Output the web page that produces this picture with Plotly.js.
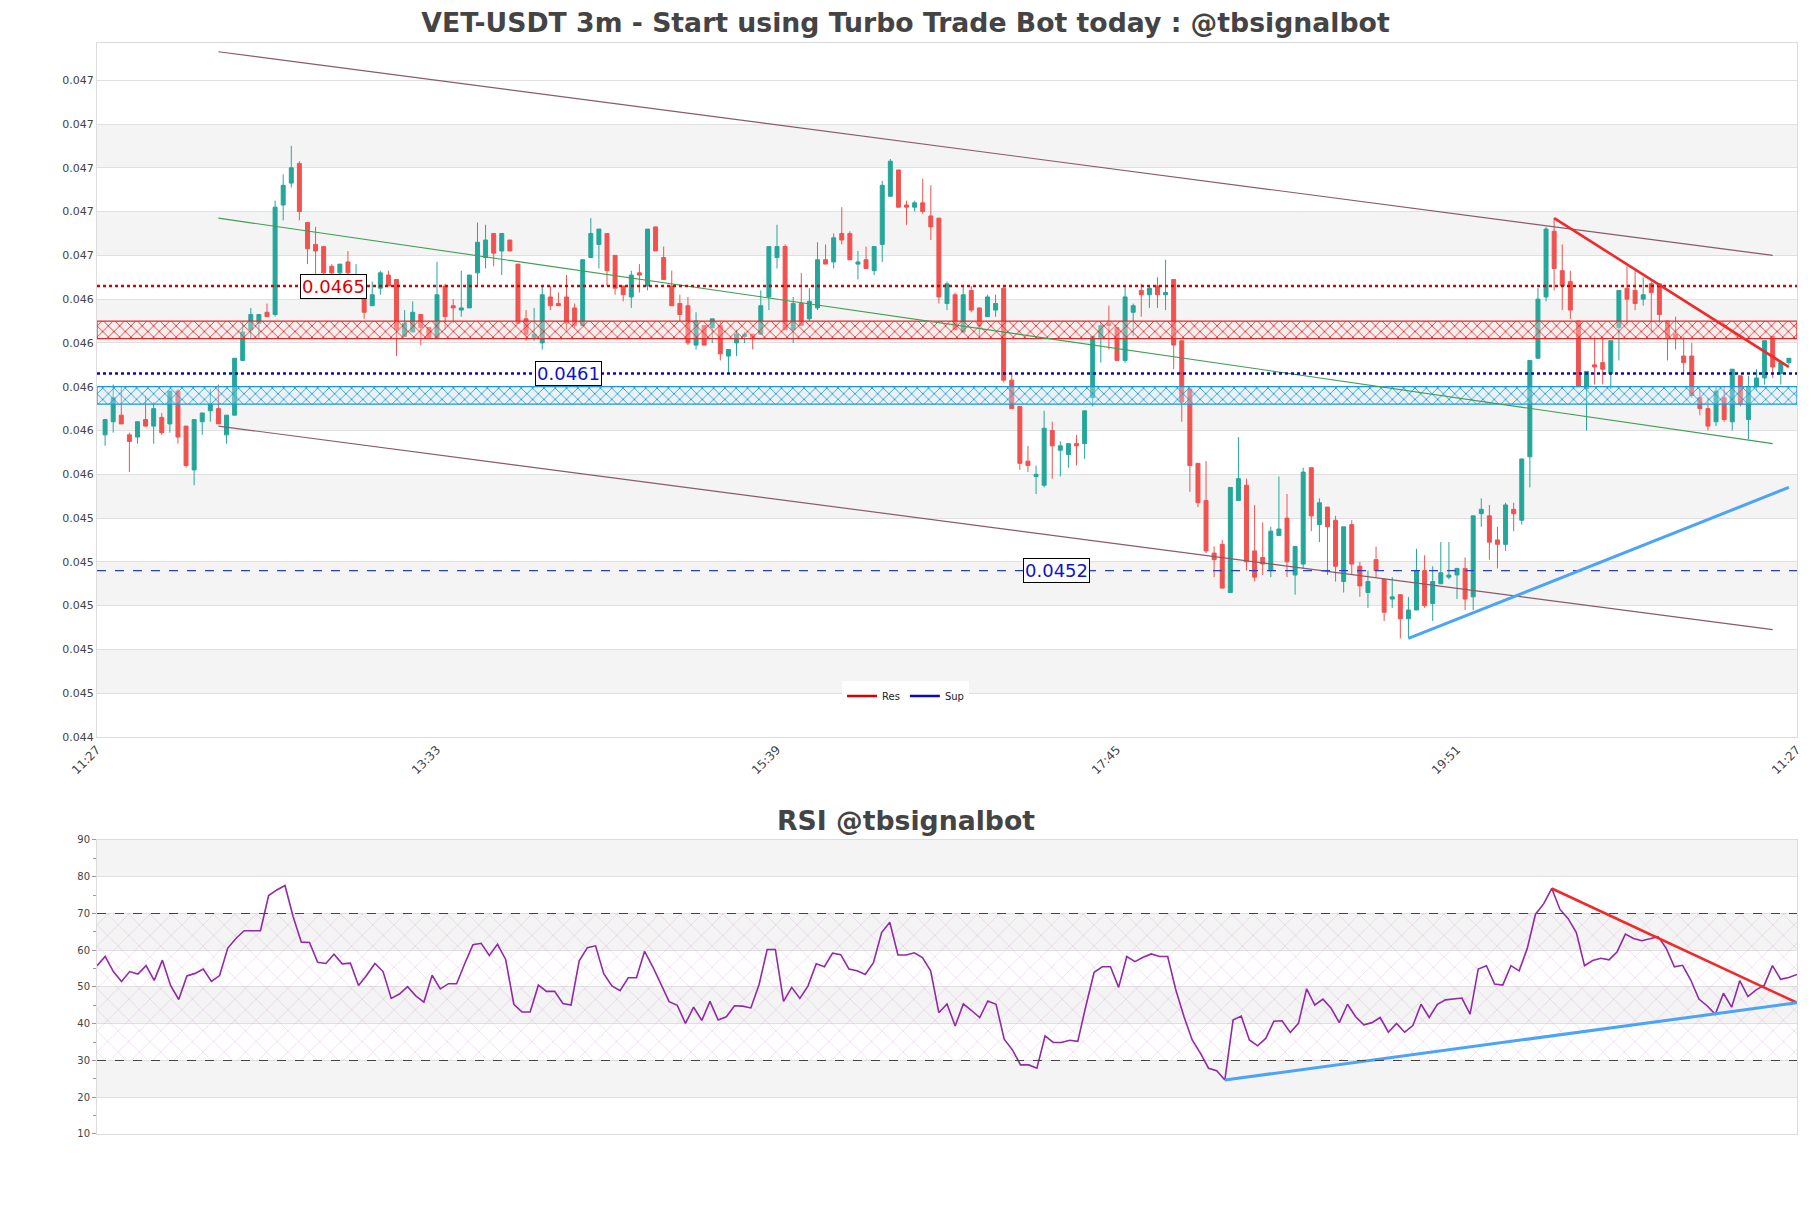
<!DOCTYPE html>
<html>
<head>
<meta charset="utf-8">
<script src="https://cdn.plot.ly/plotly-3.0.1.min.js"></script>
<style>
  html, body { margin: 0; padding: 0; background: #fff; }
  #chart { width: 1811px; height: 1208px; }
</style>
</head>
<body>
<div id="chart"></div>
<script>
// x axis labels (candle index positions)
const tickIdx = [0, 42, 84, 126, 168, 210];
const tickLabels = ['11:27', '13:33', '15:39', '17:45', '19:51', '11:27'];

// VET-USDT 3m candles
const openPx = [
  0.04578,0.04584,0.04587,0.04578,0.04577,0.04585,0.04582,0.04586,0.04583,0.04598,
  0.04582,0.04562,0.04584,0.04589,0.04590,0.04578,0.04587,0.04612,0.04626,0.04629,
  0.04634,0.04633,0.04683,0.04693,0.04702,0.04675,0.04665,0.04664,0.04655,0.04652,
  0.04657,0.04648,0.04643,0.04637,0.04645,0.04651,0.04649,0.04623,0.04625,0.04633,
  0.04627,0.04622,0.04646,0.04637,0.04635,0.04636,0.04652,0.04659,0.04670,0.04662,
  0.04667,0.04656,0.04631,0.04622,0.04620,0.04641,0.04638,0.04641,0.04636,0.04628,
  0.04659,0.04665,0.04670,0.04660,0.04646,0.04641,0.04652,0.04646,0.04673,0.04659,
  0.04646,0.04638,0.04637,0.04619,0.04628,0.04627,0.04628,0.04614,0.04620,0.04623,
  0.04624,0.04624,0.04641,0.04659,0.04664,0.04626,0.04638,0.04631,0.04636,0.04658,
  0.04657,0.04670,0.04670,0.04656,0.04658,0.04653,0.04665,0.04687,0.04699,0.04683,
  0.04682,0.04684,0.04678,0.04677,0.04638,0.04642,0.04625,0.04644,0.04636,0.04632,
  0.04635,0.04645,0.04603,0.04591,0.04566,0.04559,0.04555,0.04580,0.04571,0.04569,
  0.04574,0.04574,0.04595,0.04622,0.04629,0.04627,0.04612,0.04634,0.04644,0.04642,
  0.04646,0.04642,0.04649,0.04621,0.04599,0.04565,0.04548,0.04524,0.04528,0.04506,
  0.04548,0.04555,0.04525,0.04522,0.04516,0.04532,0.04540,0.04514,0.04519,0.04563,
  0.04537,0.04545,0.04539,0.04511,0.04537,0.04518,0.04506,0.04521,0.04512,0.04503,
  0.04505,0.04494,0.04498,0.04516,0.04501,0.04510,0.04513,0.04514,0.04517,0.04504,
  0.04542,0.04541,0.04530,0.04528,0.04544,0.04539,0.04568,0.04613,0.04641,0.04671,
  0.04653,0.04648,0.04630,0.04599,0.04610,0.04611,0.04606,0.04627,0.04645,0.04644,
  0.04640,0.04647,0.04647,0.04630,0.04624,0.04614,0.04614,0.04595,0.04590,0.04584,
  0.04595,0.04584,0.04605,0.04585,0.04600,0.04604,0.04623,0.04606,0.04611
];
const highPx = [
  0.04585,0.04601,0.04600,0.04579,0.04584,0.04596,0.04593,0.04588,0.04598,0.04599,
  0.04582,0.04585,0.04588,0.04599,0.04601,0.04587,0.04613,0.04630,0.04636,0.04633,
  0.04638,0.04685,0.04697,0.04710,0.04703,0.04675,0.04673,0.04664,0.04656,0.04656,
  0.04662,0.04656,0.04643,0.04648,0.04653,0.04653,0.04649,0.04635,0.04639,0.04633,
  0.04627,0.04657,0.04647,0.04640,0.04653,0.04651,0.04675,0.04674,0.04670,0.04670,
  0.04667,0.04656,0.04635,0.04636,0.04646,0.04646,0.04643,0.04651,0.04638,0.04658,
  0.04677,0.04672,0.04670,0.04660,0.04646,0.04653,0.04656,0.04672,0.04673,0.04664,
  0.04653,0.04642,0.04641,0.04634,0.04628,0.04631,0.04630,0.04617,0.04626,0.04625,
  0.04624,0.04644,0.04664,0.04674,0.04665,0.04641,0.04652,0.04645,0.04666,0.04665,
  0.04670,0.04682,0.04671,0.04662,0.04664,0.04664,0.04694,0.04704,0.04699,0.04685,
  0.04685,0.04695,0.04692,0.04677,0.04648,0.04643,0.04646,0.04646,0.04636,0.04642,
  0.04642,0.04646,0.04606,0.04591,0.04573,0.04564,0.04589,0.04584,0.04575,0.04574,
  0.04578,0.04589,0.04623,0.04630,0.04637,0.04627,0.04646,0.04638,0.04647,0.04646,
  0.04650,0.04658,0.04649,0.04621,0.04599,0.04565,0.04566,0.04527,0.04530,0.04554,
  0.04577,0.04558,0.04546,0.04538,0.04536,0.04559,0.04551,0.04527,0.04563,0.04563,
  0.04549,0.04545,0.04541,0.04536,0.04539,0.04520,0.04516,0.04527,0.04512,0.04513,
  0.04505,0.04504,0.04526,0.04523,0.04518,0.04529,0.04529,0.04517,0.04522,0.04541,
  0.04549,0.04546,0.04536,0.04547,0.04547,0.04567,0.04612,0.04645,0.04673,0.04677,
  0.04665,0.04653,0.04630,0.04607,0.04623,0.04623,0.04621,0.04644,0.04655,0.04653,
  0.04650,0.04648,0.04647,0.04630,0.04632,0.04623,0.04620,0.04600,0.04595,0.04600,
  0.04600,0.04608,0.04605,0.04605,0.04608,0.04621,0.04623,0.04612,0.04613
];
const lowPx = [
  0.04573,0.04579,0.04583,0.04561,0.04574,0.04582,0.04574,0.04578,0.04579,0.04574,
  0.04563,0.04555,0.04578,0.04584,0.04583,0.04574,0.04587,0.04612,0.04622,0.04622,
  0.04632,0.04632,0.04676,0.04691,0.04676,0.04656,0.04651,0.04651,0.04651,0.04642,
  0.04651,0.04643,0.04631,0.04637,0.04642,0.04646,0.04614,0.04623,0.04625,0.04619,
  0.04622,0.04622,0.04626,0.04629,0.04632,0.04636,0.04646,0.04654,0.04655,0.04651,
  0.04662,0.04629,0.04621,0.04621,0.04617,0.04635,0.04637,0.04626,0.04627,0.04628,
  0.04659,0.04654,0.04646,0.04642,0.04639,0.04636,0.04643,0.04644,0.04662,0.04649,
  0.04637,0.04630,0.04619,0.04617,0.04619,0.04620,0.04612,0.04606,0.04614,0.04620,
  0.04617,0.04624,0.04635,0.04654,0.04626,0.04620,0.04628,0.04630,0.04635,0.04656,
  0.04654,0.04665,0.04658,0.04649,0.04654,0.04651,0.04657,0.04687,0.04682,0.04674,
  0.04680,0.04679,0.04667,0.04638,0.04635,0.04626,0.04625,0.04634,0.04622,0.04632,
  0.04632,0.04602,0.04590,0.04562,0.04561,0.04551,0.04554,0.04558,0.04559,0.04563,
  0.04564,0.04567,0.04591,0.04611,0.04617,0.04612,0.04611,0.04623,0.04632,0.04636,
  0.04636,0.04635,0.04608,0.04584,0.04552,0.04545,0.04524,0.04513,0.04508,0.04506,
  0.04548,0.04516,0.04511,0.04514,0.04513,0.04532,0.04513,0.04505,0.04517,0.04534,
  0.04529,0.04514,0.04511,0.04506,0.04514,0.04504,0.04499,0.04513,0.04493,0.04499,
  0.04485,0.04485,0.04498,0.04499,0.04493,0.04510,0.04512,0.04503,0.04498,0.04498,
  0.04536,0.04521,0.04517,0.04525,0.04534,0.04537,0.04554,0.04613,0.04639,0.04644,
  0.04635,0.04631,0.04600,0.04580,0.04601,0.04601,0.04599,0.04612,0.04628,0.04635,
  0.04637,0.04625,0.04629,0.04612,0.04617,0.04606,0.04595,0.04587,0.04580,0.04582,
  0.04584,0.04580,0.04591,0.04576,0.04598,0.04601,0.04604,0.04601,0.04610
];
const closePx = [
  0.04585,0.04595,0.04583,0.04575,0.04584,0.04582,0.04590,0.04579,0.04598,0.04577,
  0.04564,0.04585,0.04588,0.04592,0.04583,0.04587,0.04613,0.04625,0.04633,0.04633,
  0.04632,0.04682,0.04692,0.04700,0.04680,0.04663,0.04662,0.04652,0.04652,0.04656,
  0.04652,0.04651,0.04634,0.04642,0.04652,0.04646,0.04626,0.04629,0.04634,0.04627,
  0.04622,0.04642,0.04632,0.04636,0.04636,0.04651,0.04666,0.04667,0.04661,0.04670,
  0.04662,0.04629,0.04624,0.04624,0.04642,0.04637,0.04637,0.04629,0.04628,0.04658,
  0.04670,0.04672,0.04653,0.04645,0.04642,0.04651,0.04651,0.04672,0.04662,0.04649,
  0.04637,0.04633,0.04620,0.04630,0.04619,0.04631,0.04615,0.04617,0.04624,0.04624,
  0.04622,0.04637,0.04664,0.04664,0.04626,0.04638,0.04628,0.04639,0.04658,0.04656,
  0.04668,0.04667,0.04658,0.04657,0.04654,0.04664,0.04692,0.04703,0.04682,0.04682,
  0.04684,0.04680,0.04673,0.04641,0.04647,0.04626,0.04642,0.04635,0.04628,0.04641,
  0.04638,0.04603,0.04590,0.04565,0.04564,0.04560,0.04581,0.04573,0.04573,0.04574,
  0.04573,0.04589,0.04623,0.04628,0.04628,0.04612,0.04641,0.04637,0.04642,0.04645,
  0.04642,0.04643,0.04619,0.04593,0.04564,0.04547,0.04525,0.04521,0.04508,0.04554,
  0.04558,0.04520,0.04513,0.04519,0.04534,0.04535,0.04520,0.04527,0.04561,0.04541,
  0.04547,0.04536,0.04518,0.04536,0.04519,0.04509,0.04511,0.04516,0.04497,0.04504,
  0.04494,0.04498,0.04516,0.04500,0.04511,0.04515,0.04514,0.04517,0.04503,0.04541,
  0.04544,0.04529,0.04528,0.04546,0.04542,0.04567,0.04612,0.04640,0.04672,0.04654,
  0.04646,0.04635,0.04600,0.04607,0.04609,0.04608,0.04621,0.04644,0.04640,0.04638,
  0.04642,0.04643,0.04633,0.04622,0.04622,0.04611,0.04596,0.04590,0.04582,0.04598,
  0.04585,0.04608,0.04592,0.04600,0.04604,0.04621,0.04609,0.04611,0.04613
];

// RSI values, one per candle
const rsiValues = [
  55.8,58.3,54.2,51.5,54.2,53.5,55.8,51.8,57.3,50.4,
  46.6,53.0,53.7,54.9,51.5,53.1,60.6,63.2,65.3,65.3,
  65.3,74.9,76.4,77.6,69.1,62.2,62.1,56.7,56.4,58.9,
  56.3,56.5,50.4,53.2,56.4,54.2,46.9,48.1,50.1,47.6,
  45.9,53.2,49.5,50.9,50.9,56.4,61.5,61.9,58.6,61.6,
  57.5,45.3,43.2,43.2,50.5,48.8,48.8,45.5,45.1,57.1,
  60.7,61.2,53.6,50.3,49.0,52.5,52.5,59.7,55.5,50.8,
  46.0,45.0,40.1,44.5,40.9,46.1,41.0,41.9,44.9,44.8,
  44.3,50.6,60.2,60.2,46.1,49.9,46.9,50.3,56.3,55.5,
  59.2,58.8,54.9,54.4,53.4,56.6,64.8,67.6,58.7,58.7,
  59.3,58.0,54.4,43.0,
  45.4,39.4,45.4,43.6,41.7,46.2,45.3,35.8,32.9,28.8,
  28.8,27.9,36.7,34.9,34.9,35.5,35.2,44.9,54.0,55.5,
  55.5,49.9,58.3,56.9,58.1,59.0,58.3,58.3,49.2,41.9,
  35.6,32.0,27.9,27.2,24.7,41.0,42.1,35.6,34.0,36.0,
  40.7,40.8,37.6,40.1,49.5,45.1,46.7,44.2,40.3,45.3,
  41.9,39.7,40.3,41.7,37.7,40.1,37.7,39.5,45.3,41.7,
  45.3,46.5,46.8,47.0,42.6,54.9,55.8,50.8,50.5,55.8,
  54.4,60.5,69.8,72.6,76.8,71.1,68.6,64.8,55.8,57.2,
  57.8,57.4,59.6,64.4,63.2,62.6,63.1,63.7,60.5,55.5,
  55.9,51.9,46.7,44.9,42.6,48.3,44.5,51.7,47.4,49.2,
  50.5,55.8,52.1,52.6,53.4
];

// levels and zones
const resLevel = 0.04646;
const supLevel = 0.04606;
const lowSupLevel = 0.04516;
const resZone = [0.04622, 0.04630];
const supZone = [0.04592, 0.04600];

// channel and trend lines (candle index, price)
const channelX = [15, 207];
const channelUpperY = [0.04753, 0.04660];
const channelLowerY = [0.04582, 0.04489];
const channelMidY = [0.04677, 0.04574];
const resTrendX = [180, 209];
const resTrendY = [0.04677, 0.04609];
const supTrendX = [162, 209];
const supTrendY = [0.04485, 0.04554];

// RSI trend lines and levels
const rsiResX = [178, 208];
const rsiResY = [76.8, 45.7];
const rsiSupX = [138, 208];
const rsiSupY = [24.7, 45.7];
const rsiBounds = [30, 70];

const candleIdx = openPx.map((_, i) => i + 1);
const rsiIdx = rsiValues.map((_, i) => i);
const xMin = tickIdx[0];
const xMax = tickIdx[tickIdx.length - 1];
// page centre in paper coords (plot area is 97..1797 of 1811 px)
const pageCenterX = (1811 / 2 - 97) / 1700;

function zoneTrace(zone, color, bg) {
  return {
    x: [xMin, xMax, xMax, xMin, xMin],
    y: [zone[0], zone[0], zone[1], zone[1], zone[0]],
    type: 'scatter',
    mode: 'lines',
    fill: 'toself',
    fillcolor: bg,
    fillpattern: { shape: 'x', fgcolor: color, bgcolor: bg, size: 8, solidity: 0.2 },
    line: { color: color, width: 1.2 },
    hoverinfo: 'skip',
    showlegend: false,
  };
}

function hLine(level, color, dash, width) {
  return {
    x: [xMin, xMax],
    y: [level, level],
    type: 'scatter',
    mode: 'lines',
    line: { color: color, dash: dash, width: width },
    showlegend: false,
    hoverinfo: 'skip',
  };
}

function legendEntry(name, color) {
  return {
    x: [null], y: [null], type: 'scatter', mode: 'lines', name: name,
    line: { color: color, width: 2.5 }, showlegend: true, hoverinfo: 'skip',
  };
}

function segment(x, y, color, width, xa, ya) {
  return {
    x: x, y: y, type: 'scatter', mode: 'lines',
    line: { color: color, width: width },
    xaxis: xa || 'x', yaxis: ya || 'y',
    showlegend: false, hoverinfo: 'skip',
  };
}

const traces = [
  zoneTrace(resZone, '#e02828', 'rgba(255,225,225,0.35)'),
  zoneTrace(supZone, '#1a98d8', 'rgba(215,238,250,0.35)'),
  segment(channelX, channelUpperY, '#8a5a6a', 1.2),
  segment(channelX, channelLowerY, '#8a5a6a', 1.2),
  segment(channelX, channelMidY, '#3f9e52', 1.1),
  hLine(resLevel, '#d80000', 'dot', 2.5),
  hLine(supLevel, '#0a0ab4', 'dot', 2.5),
  hLine(lowSupLevel, '#2b3ad8', 'dash', 1.2),
  legendEntry('Res', '#d80000'),
  legendEntry('Sup', '#0a0ab4'),
  {
    x: candleIdx,
    open: openPx,
    high: highPx,
    low: lowPx,
    close: closePx,
    type: 'candlestick',
    increasing: { line: { color: '#26a69a', width: 1 }, fillcolor: '#26a69a' },
    decreasing: { line: { color: '#ef5350', width: 1 }, fillcolor: '#ef5350' },
    showlegend: false,
    hoverinfo: 'skip',
  },
  segment(resTrendX, resTrendY, '#f02a2a', 2.6),
  segment(supTrendX, supTrendY, '#4da3f5', 3),
  // RSI panel
  {
    x: [rsiIdx[0], rsiIdx[rsiIdx.length - 1], rsiIdx[rsiIdx.length - 1], rsiIdx[0], rsiIdx[0]],
    y: [rsiBounds[0], rsiBounds[0], rsiBounds[1], rsiBounds[1], rsiBounds[0]],
    type: 'scatter', mode: 'lines', fill: 'toself',
    fillcolor: 'rgba(0,0,0,0)',
    fillpattern: { shape: 'x', fgcolor: 'rgba(200,150,205,0.75)', bgcolor: 'rgba(0,0,0,0)', size: 15, solidity: 0.05 },
    line: { width: 0 },
    xaxis: 'x2', yaxis: 'y2', showlegend: false, hoverinfo: 'skip',
  },
  {
    x: rsiIdx, y: rsiValues, type: 'scatter', mode: 'lines',
    line: { color: '#912aa6', width: 1.6 },
    xaxis: 'x2', yaxis: 'y2', showlegend: false, hoverinfo: 'skip',
  },
  segment(rsiResX, rsiResY, '#f02a2a', 2.6, 'x2', 'y2'),
  segment(rsiSupX, rsiSupY, '#4da3f5', 3, 'x2', 'y2'),
];

// alternating grey bands
const yMin = 0.0444, yStep = 0.0002;
const shapes = [];
for (let k = 0; k < 7; k++) {
  const y0 = yMin + yStep * (1 + 2 * k);
  shapes.push({
    type: 'rect', xref: 'x domain', yref: 'y', x0: 0, x1: 1, y0: y0, y1: y0 + yStep,
    fillcolor: '#f4f4f4', line: { width: 0 }, layer: 'below',
  });
}
[20, 40, 60, 80].forEach((v) => {
  shapes.push({
    type: 'rect', xref: 'x2 domain', yref: 'y2', x0: 0, x1: 1, y0: v, y1: v + 10,
    fillcolor: '#f4f4f4', line: { width: 0 }, layer: 'below',
  });
});
rsiBounds.forEach((v) => {
  shapes.push({
    type: 'line', xref: 'x2 domain', yref: 'y2', x0: 0, x1: 1, y0: v, y1: v,
    line: { color: '#444', width: 1.2, dash: 'dash' },
  });
});

function levelLabel(xPos, level, color) {
  return {
    x: xPos, y: level, xref: 'x', yref: 'y',
    text: level.toFixed(4), showarrow: false,
    font: { family: 'DejaVu Sans', size: 18, color: color },
    bgcolor: '#ffffff', bordercolor: '#000000', borderwidth: 1, borderpad: 1,
  };
}

const layout = {
  width: 1811,
  height: 1208,
  margin: { l: 97, r: 14, t: 43, b: 74 },
  paper_bgcolor: '#ffffff',
  plot_bgcolor: '#ffffff',
  font: { family: 'DejaVu Sans', color: '#444' },
  title: {
    text: '<b>VET-USDT 3m - Start using Turbo Trade Bot today : @tbsignalbot</b>',
    x: 0.5, xanchor: 'center', yref: 'container', y: 1 - 23 / 1208, yanchor: 'middle',
    font: { family: 'DejaVu Sans', size: 26.7, color: '#444' },
  },
  boxgap: 0.3,
  showlegend: true,
  legend: {
    orientation: 'h', x: pageCenterX, xanchor: 'center', y: 0.4015, yanchor: 'middle',
    bgcolor: '#ffffff', font: { size: 10, color: '#222' }, itemwidth: 30,
  },
  xaxis: {
    domain: [0, 1], anchor: 'y', range: [xMin, xMax],
    tickmode: 'array', tickvals: tickIdx, ticktext: tickLabels, tickangle: -45,
    tickfont: { size: 12, color: '#444' },
    showgrid: false, zeroline: false,
    showline: true, mirror: true, linecolor: '#dcdcdc',
    rangeslider: { visible: false },
  },
  yaxis: {
    domain: [0.3639, 1], anchor: 'x', range: [yMin, 0.04757],
    tick0: yMin, dtick: yStep, tickformat: '.3f',
    tickfont: { size: 11, color: '#444' },
    gridcolor: '#e0e0e0', zeroline: false,
    showline: true, mirror: true, linecolor: '#dcdcdc',
  },
  xaxis2: {
    domain: [0, 1], anchor: 'y2', range: [rsiIdx[0], rsiIdx[rsiIdx.length - 1]],
    showticklabels: false, showgrid: false, zeroline: false,
    showline: true, mirror: true, linecolor: '#dcdcdc',
  },
  yaxis2: {
    domain: [0, 0.2695], anchor: 'x2', range: [10, 90], dtick: 10,
    tickfont: { size: 10, color: '#444' },
    gridcolor: '#e0e0e0', zeroline: false,
    showline: true, mirror: true, linecolor: '#dcdcdc',
    ticks: 'outside', ticklen: 4, tickcolor: '#999',
    minor: { ticks: 'outside', dtick: 5, ticklen: 3, tickcolor: '#999', showgrid: false },
  },
  shapes: shapes,
  annotations: [
    levelLabel(29.2, resLevel, '#e00000'),
    levelLabel(58.2, supLevel, '#1212c8'),
    levelLabel(118.5, lowSupLevel, '#1212c8'),
    {
      text: '<b>RSI @tbsignalbot</b>', xref: 'paper', yref: 'paper',
      x: pageCenterX, y: 0.2878, xanchor: 'center', yanchor: 'middle', showarrow: false,
      font: { family: 'DejaVu Sans', size: 26.7, color: '#444' },
    },
  ],
};

Plotly.newPlot('chart', traces, layout, { displayModeBar: false, staticPlot: true });
</script>
</body>
</html>
